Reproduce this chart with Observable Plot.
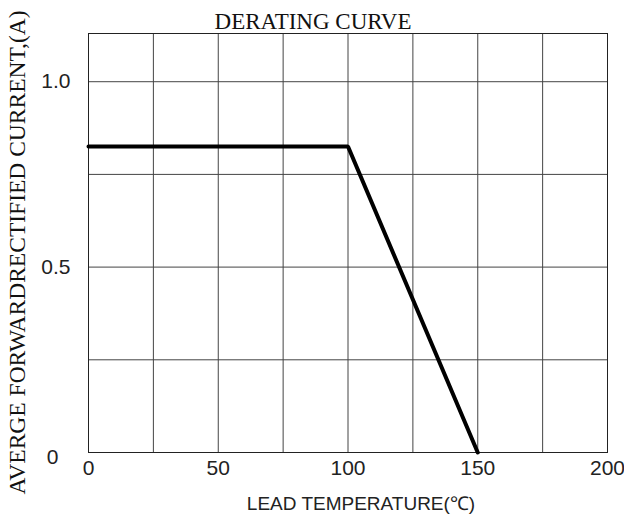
<!DOCTYPE html>
<html>
<head>
<meta charset="utf-8">
<script src="https://cdn.jsdelivr.net/npm/d3@7"></script>
<script src="https://cdn.jsdelivr.net/npm/@observablehq/plot@0.6"></script>
<style>
  html, body { margin: 0; padding: 0; background: #fff; }
  #chart svg { display: block; }
</style>
</head>
<body>
<div id="chart"></div>
<script>
const titleText = "DERATING CURVE";
const xLabel = "LEAD TEMPERATURE(\u2103)";
const yLabel = "AVERGE FORWARDRECTIFIED CURRENT,(A)";

const temperature = [0, 100, 150];
const current = [0.825, 0.825, 0];

const xGrid = [0, 25, 50, 75, 100, 125, 150, 175, 200];
const yGrid = [0, 0.25, 0.5, 0.75, 1.0];
const xTicks = [0, 50, 100, 150, 200];
const yTicks = [0.5, 1.0];
const yTickLabels = ["0.5", "1.0"];
const yZero = [0];

const curve = temperature.map((t, i) => ({t, a: current[i]}));

const sans = "'Liberation Sans', Arial, sans-serif";
const serif = "'Liberation Serif', 'Times New Roman', serif";

const chart = Plot.plot({
  width: 624,
  height: 522,
  marginLeft: 88,
  marginRight: 17,
  marginTop: 33,
  marginBottom: 70,
  x: {domain: [0, 200], axis: null},
  y: {domain: [0, 1.13], axis: null},
  style: {background: "#fff", overflow: "visible"},
  marks: [
    Plot.ruleX(xGrid, {stroke: "#444", strokeWidth: 1}),
    Plot.ruleY(yGrid, {stroke: "#444", strokeWidth: 1}),
    Plot.frame({stroke: "#222", strokeWidth: 1}),
    Plot.line(curve, {x: "t", y: "a", stroke: "#000", strokeWidth: 4, strokeLinejoin: "miter"}),
    Plot.text(xTicks, {x: d => d, frameAnchor: "bottom", dy: 22, text: d => String(d), fontFamily: sans, fontSize: 21, fill: "#222", ariaLabel: "narrow"}),
    Plot.text(yTicks, {y: d => d, frameAnchor: "left", textAnchor: "end", dx: -18, text: (d, i) => yTickLabels[i], fontFamily: sans, fontSize: 21, fill: "#222", ariaLabel: "narrow"}),
    Plot.text(yZero, {y: d => d, frameAnchor: "left", textAnchor: "end", dx: -30, dy: 5, text: d => "0", fontFamily: sans, fontSize: 21, fill: "#222", ariaLabel: "narrow"}),
    Plot.text([titleText], {frameAnchor: "top", dx: -35, dy: -21, text: d => d, fontFamily: serif, fontSize: 23, fill: "#111"}),
    Plot.text([xLabel], {frameAnchor: "bottom", dx: 13, dy: 57, text: d => d, fontFamily: sans, fontSize: 19, fill: "#222"}),
    Plot.text([yLabel], {frameAnchor: "left", textAnchor: "middle", dx: -71, dy: 9.5, rotate: -90, text: d => d, fontFamily: serif, fontSize: 23.5, fill: "#111"})
  ]
});
document.getElementById("chart").appendChild(chart);
// condense the tick label glyphs like the reference's narrow face
d3.select(chart).selectAll('g[aria-label="narrow"] text').each(function() {
  const w = this.getComputedTextLength();
  this.setAttribute("textLength", (w * 0.83).toFixed(1));
  this.setAttribute("lengthAdjust", "spacingAndGlyphs");
});
</script>
</body>
</html>
